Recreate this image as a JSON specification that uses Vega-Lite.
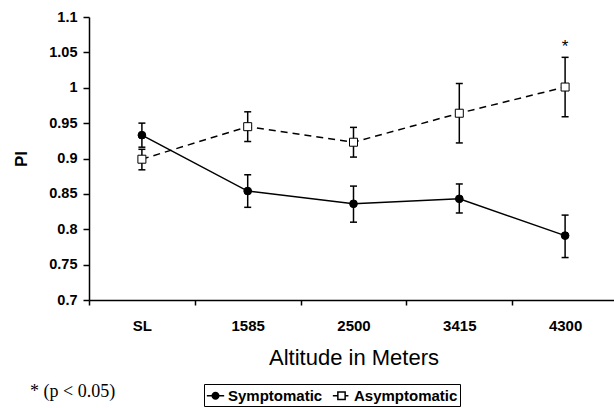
{
  "$schema": "https://vega.github.io/schema/vega-lite/v6.json",
  "width": 529,
  "height": 283,
  "autosize": {"type": "none"},
  "padding": {"left": 89, "top": 17, "right": 0, "bottom": 108},
  "title": {"text": "* (p < 0.05)", "orient": "bottom", "anchor": "start", "frame": "group", "dx": -59, "offset": -24, "font": "Liberation Serif", "fontSize": 18, "fontWeight": "normal", "color": "black"},
  "datasets": {
    "pts": [
      {"alt": "SL", "group": "Symptomatic", "pi": 0.933, "lo": 0.916, "hi": 0.950},
      {"alt": "1585", "group": "Symptomatic", "pi": 0.854, "lo": 0.831, "hi": 0.877},
      {"alt": "2500", "group": "Symptomatic", "pi": 0.836, "lo": 0.810, "hi": 0.861},
      {"alt": "3415", "group": "Symptomatic", "pi": 0.843, "lo": 0.823, "hi": 0.864},
      {"alt": "4300", "group": "Symptomatic", "pi": 0.791, "lo": 0.760, "hi": 0.820},
      {"alt": "SL", "group": "Asymptomatic", "pi": 0.899, "lo": 0.884, "hi": 0.913},
      {"alt": "1585", "group": "Asymptomatic", "pi": 0.945, "lo": 0.924, "hi": 0.966},
      {"alt": "2500", "group": "Asymptomatic", "pi": 0.923, "lo": 0.902, "hi": 0.944},
      {"alt": "3415", "group": "Asymptomatic", "pi": 0.964, "lo": 0.922, "hi": 1.006},
      {"alt": "4300", "group": "Asymptomatic", "pi": 1.001, "lo": 0.959, "hi": 1.043}
    ],
    "star": [{"alt": "4300", "pi": 1.051, "label": "*"}]
  },
  "encoding": {
    "x": {
      "field": "alt", "type": "nominal", "sort": ["SL", "1585", "2500", "3415", "4300"],
      "scale": {"type": "band", "paddingInner": 0, "paddingOuter": 0, "round": false},
      "axis": {"title": "Altitude in Meters", "titleFontSize": 22, "titleFontWeight": "normal", "titlePadding": 14, "labelFontSize": 15, "labelFontWeight": "bold", "labelPadding": 13, "labelAngle": 0, "tickSize": 5, "tickBand": "extent", "domainWidth": 1.5, "tickWidth": 1.5}
    },
    "y": {"field": "pi", "type": "quantitative", "scale": {"domain": [0.7, 1.1], "zero": false, "nice": false},
      "axis": {"title": "PI", "titleFontSize": 17, "titleFontWeight": "bold", "titleX": -68, "titleY": 141.5, "titleBaseline": "middle", "values": [0.7, 0.75, 0.8, 0.85, 0.9, 0.95, 1, 1.05, 1.1], "format": "~g", "labelOverlap": false, "labelFontSize": 14.5, "labelFontWeight": "bold", "labelPadding": 6, "tickSize": 6, "domainWidth": 1.5, "tickWidth": 1.5}}
  },
  "layer": [
    {
      "data": {"name": "pts"},
      "transform": [{"filter": "datum.group == 'Symptomatic'"}],
      "mark": {"type": "line", "color": "black", "strokeWidth": 1.5}
    },
    {
      "data": {"name": "pts"},
      "transform": [{"filter": "datum.group == 'Asymptomatic'"}],
      "mark": {"type": "line", "color": "black", "strokeWidth": 1.5, "strokeDash": [7, 5]}
    },
    {
      "data": {"name": "pts"},
      "mark": {"type": "rule", "color": "black", "strokeWidth": 1.5},
      "encoding": {
        "y": {"field": "lo", "type": "quantitative"},
        "y2": {"field": "hi"}
      }
    },
    {
      "data": {"name": "pts"},
      "mark": {"type": "tick", "orient": "horizontal", "size": 7, "thickness": 1.5, "color": "black", "opacity": 1},
      "encoding": {"y": {"field": "lo", "type": "quantitative"}}
    },
    {
      "data": {"name": "pts"},
      "mark": {"type": "tick", "orient": "horizontal", "size": 7, "thickness": 1.5, "color": "black", "opacity": 1},
      "encoding": {"y": {"field": "hi", "type": "quantitative"}}
    },
    {
      "data": {"name": "pts"},
      "transform": [{"filter": "datum.group == 'Symptomatic'"}],
      "mark": {"type": "point", "shape": "circle", "filled": true, "fill": "black", "stroke": "black", "strokeWidth": 1, "opacity": 1, "size": 60}
    },
    {
      "data": {"name": "pts"},
      "transform": [{"filter": "datum.group == 'Asymptomatic'"}],
      "mark": {"type": "point", "shape": "square", "filled": true, "fill": "white", "stroke": "black", "strokeWidth": 1, "opacity": 1, "size": 64}
    },
    {
      "data": {"name": "pts"},
      "mark": {"type": "point", "filled": true, "stroke": "black", "strokeWidth": 1, "opacity": 0, "size": 60},
      "encoding": {
        "shape": {"field": "group", "type": "nominal", "title": null, "scale": {"domain": ["Symptomatic", "Asymptomatic"], "range": ["M-1,0H1M-0.38,0A0.38,0.38 0 1,0 0.38,0A0.38,0.38 0 1,0 -0.38,0Z", "M-1,0H-0.42M0.42,0H0.8M-0.42,-0.42H0.42V0.42H-0.42Z"]},
          "legend": {"orient": "none", "legendX": 115, "legendY": 367, "direction": "horizontal", "strokeColor": "black", "fillColor": "white", "padding": 2, "labelFont": "Liberation Sans", "labelFontWeight": "bold", "labelFontSize": 15, "labelColor": "black", "labelOffset": 3, "columnPadding": 6, "symbolSize": 300, "symbolStrokeWidth": 1.5, "symbolStrokeColor": "black", "symbolOpacity": 1,
            "encode": {"symbols": {"update": {
              "fill": {"signal": "datum.value == 'Symptomatic' ? 'black' : 'white'"},
              "stroke": {"value": "black"},
              "opacity": {"value": 1}
            }}}}},
        "fill": {"field": "group", "type": "nominal", "title": null, "scale": {"domain": ["Symptomatic", "Asymptomatic"], "range": ["black", "white"]},
          "legend": {"orient": "none", "legendX": 115, "legendY": 367, "direction": "horizontal", "strokeColor": "black", "fillColor": "white", "padding": 2, "labelFont": "Liberation Sans", "labelFontWeight": "bold", "labelFontSize": 15, "labelColor": "black", "labelOffset": 3, "columnPadding": 6, "symbolSize": 300, "symbolStrokeWidth": 1.5, "symbolStrokeColor": "black", "symbolOpacity": 1,
            "encode": {"symbols": {"update": {
              "fill": {"signal": "datum.value == 'Symptomatic' ? 'black' : 'white'"},
              "stroke": {"value": "black"},
              "opacity": {"value": 1}
            }}}}}
      }
    },
    {
      "data": {"name": "star"},
      "mark": {"type": "text", "font": "Liberation Sans", "fontSize": 17, "baseline": "alphabetic", "align": "center", "color": "black"},
      "encoding": {"text": {"field": "label"}}
    },
    {
      "data": {"values": [{}]},
      "mark": {"type": "rule", "color": "black", "strokeWidth": 1.5},
      "encoding": {"x": null, "y": {"datum": 1.1}}
    }
  ],
  "config": {
    "view": {"stroke": null},
    "font": "Liberation Sans",
    "axis": {"grid": false, "domainColor": "black", "tickColor": "black", "labelColor": "black", "titleColor": "black", "labelFont": "Liberation Sans", "titleFont": "Liberation Sans"}
  }
}
